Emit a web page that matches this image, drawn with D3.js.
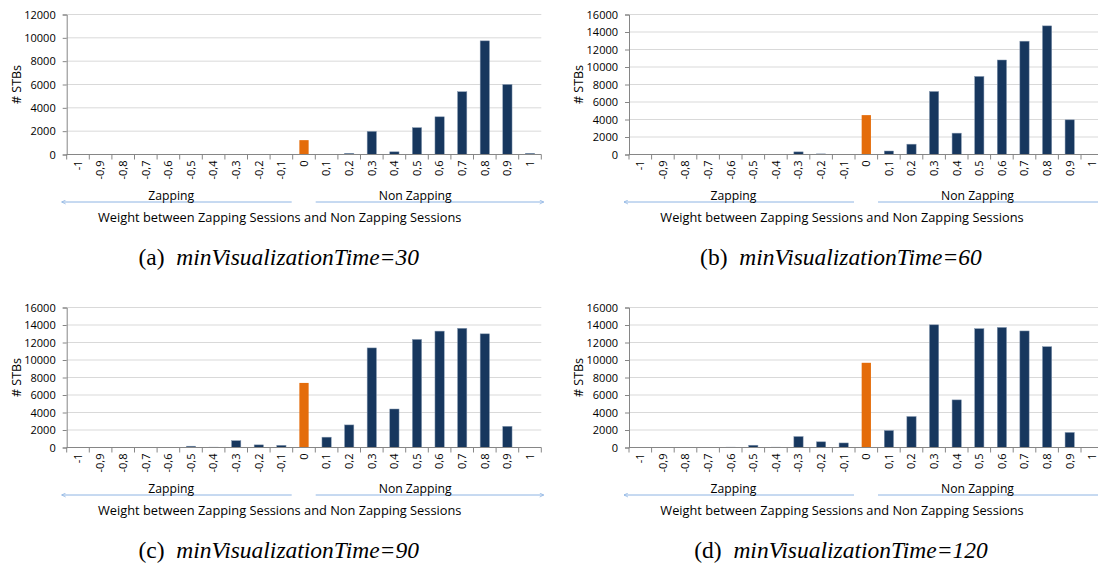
<!DOCTYPE html>
<html>
<head>
<meta charset="utf-8">
<script src="https://cdn.jsdelivr.net/npm/d3@7"></script>
<style>
  body { margin: 0; background: #fff; }
  svg text { font-family: "Open Sans", sans-serif; }
</style>
</head>
<body>
<svg id="chart" width="1098" height="568"></svg>
<script>
const width = 1098;
const height = 568;

// weight categories (-1 .. 1)
const categories = ["-1","-0,9","-0,8","-0,7","-0,6","-0,5","-0,4","-0,3","-0,2","-0,1",
  "0","0,1","0,2","0,3","0,4","0,5","0,6","0,7","0,8","0,9","1"];

// # STBs per weight, one array per minVisualizationTime
const stbs30  = [0,0,0,0,0,0,0,10,0,0, 1230,0,100,1980,230,2300,3230,5380,9740,6000,100];
const stbs60  = [0,0,0,0,0,0,0,300,70,0, 4500,400,1180,7200,2440,8920,10800,12950,14700,3960,0];
const stbs90  = [0,0,0,0,20,150,40,780,300,250, 7380,1180,2580,11380,4400,12350,13300,13620,12990,2420,0];
const stbs120 = [0,0,0,0,40,260,40,1250,650,520, 9680,1940,3540,14020,5440,13580,13720,13320,11520,1720,0];

const yMax30 = 12000, yMax = 16000;
const yTicks30 = [0,2000,4000,6000,8000,10000,12000];
const yTicks = [0,2000,4000,6000,8000,10000,12000,14000,16000];

const captions = ["(a)","(b)","(c)","(d)"];
const captionTimes = ["30","60","90","120"];

const panels = [
  {values: stbs30,  max: yMax30, ticks: yTicks30, left: 66.7, top: 14.5},
  {values: stbs60,  max: yMax,   ticks: yTicks,   left: 629,  top: 14.5},
  {values: stbs90,  max: yMax,   ticks: yTicks,   left: 66.7, top: 307.5},
  {values: stbs120, max: yMax,   ticks: yTicks,   left: 629,  top: 307.5}
];

const plotW = 474.6;
const plotH = 140;

const svg = d3.select("#chart");

svg.append("defs").append("marker")
    .attr("id", "arrow")
    .attr("viewBox", "0 0 10 10")
    .attr("refX", 9).attr("refY", 5)
    .attr("markerWidth", 5).attr("markerHeight", 5)
    .attr("orient", "auto-start-reverse")
    .append("path")
    .attr("d", "M1,1 L9,5 L1,9")
    .attr("fill", "none")
    .attr("stroke", "#8eb4e3")
    .attr("stroke-width", 1.5);

panels.forEach((p, i) => {

    const g = svg.append("g")
        .attr("transform", `translate(${p.left},${p.top})`);

    const x = d3.scaleBand()
        .domain(categories)
        .range([0, plotW])
        .paddingInner(0.59)
        .paddingOuter(0.295);

    const xb = d3.scaleBand()
        .domain(categories)
        .range([0, plotW]);

    const y = d3.scaleLinear()
        .domain([0, p.max])
        .range([plotH, 0]);

    // gridlines
    g.selectAll("line.grid")
        .data(p.ticks.slice(1))
        .enter()
        .append("line")
        .attr("class", "grid")
        .attr("x1", 0)
        .attr("x2", plotW)
        .attr("y1", d => y(d))
        .attr("y2", d => y(d))
        .attr("stroke", "#d9d9d9")
        .attr("stroke-width", 1);

    // bars
    g.selectAll("rect")
        .data(p.values)
        .enter()
        .append("rect")
        .attr("x", (v, j) => x(categories[j]))
        .attr("y", v => y(v))
        .attr("width", x.bandwidth())
        .attr("height", v => plotH - y(v))
        .attr("fill", (v, j) => categories[j] === "0" ? "#e46c0a" : "#17375e")
        .attr("stroke", (v, j) => categories[j] === "0" ? "none" : "#8497b0")
        .attr("stroke-width", 0.5);

    // y axis
    const yAxis = d3.axisLeft(y)
        .tickValues(p.ticks)
        .tickSize(4)
        .tickPadding(7)
        .tickFormat(d3.format("d"));

    const ya = g.append("g").call(yAxis);
    ya.select(".domain").attr("stroke", "#868686");
    ya.selectAll(".tick line").attr("stroke", "#868686");
    ya.selectAll("text")
        .attr("font-size", "11px")
        .attr("font-family", "'Open Sans', sans-serif")
        .attr("fill", "#000");

    // x axis, ticks at band edges
    const xa = g.append("g").attr("transform", `translate(0,${plotH})`);
    xa.append("line")
        .attr("x1", 0).attr("x2", plotW)
        .attr("stroke", "#868686");
    xa.selectAll("line.tk")
        .data(categories.concat(["end"]))
        .enter()
        .append("line")
        .attr("class", "tk")
        .attr("x1", (d, j) => j * xb.step())
        .attr("x2", (d, j) => j * xb.step())
        .attr("y1", 0).attr("y2", 5)
        .attr("stroke", "#868686");
    xa.selectAll("text")
        .data(categories)
        .enter()
        .append("text")
        .attr("transform", d => `translate(${xb(d) + xb.bandwidth() / 2},6) rotate(-90)`)
        .attr("text-anchor", "end")
        .attr("dy", "0.35em")
        .attr("font-size", "11px")
        .text(d => d);

    // y label
    g.append("text")
        .attr("transform", `translate(-50,${plotH / 2}) rotate(-90)`)
        .attr("text-anchor", "middle")
        .attr("dy", "0.35em")
        .attr("font-size", "12.5px")
        .text("# STBs");

    // Zapping / Non Zapping arrows
    g.append("line")
        .attr("x1", 225).attr("x2", -5)
        .attr("y1", plotH + 47.5).attr("y2", plotH + 47.5)
        .attr("stroke", "#8eb4e3")
        .attr("marker-end", "url(#arrow)");
    g.append("line")
        .attr("x1", 249).attr("x2", 477)
        .attr("y1", plotH + 47.5).attr("y2", plotH + 47.5)
        .attr("stroke", "#8eb4e3")
        .attr("marker-end", "url(#arrow)");

    g.append("text")
        .attr("x", 104.5).attr("y", plotH + 41)
        .attr("text-anchor", "middle")
        .attr("dy", "0.35em")
        .attr("font-size", "12.2px")
        .text("Zapping");
    g.append("text")
        .attr("x", 348.5).attr("y", plotH + 41)
        .attr("text-anchor", "middle")
        .attr("dy", "0.35em")
        .attr("font-size", "12.2px")
        .text("Non Zapping");

    g.append("text")
        .attr("x", 213).attr("y", plotH + 63.5)
        .attr("text-anchor", "middle")
        .attr("dy", "0.35em")
        .attr("font-size", "12.8px")
        .text("Weight between Zapping Sessions and Non Zapping Sessions");

    // caption
    const cap = g.append("text")
        .attr("x", 212).attr("y", plotH + 102)
        .attr("text-anchor", "middle")
        .attr("dy", "0.35em")
        .attr("font-size", "23.5px")
        .style("font-family", "'Liberation Serif', serif");
    cap.append("tspan").text(captions[i] + "\u2002");
    cap.append("tspan")
        .attr("font-style", "italic")
        .text("minVisualizationTime=" + captionTimes[i]);
});
</script>
</body>
</html>
